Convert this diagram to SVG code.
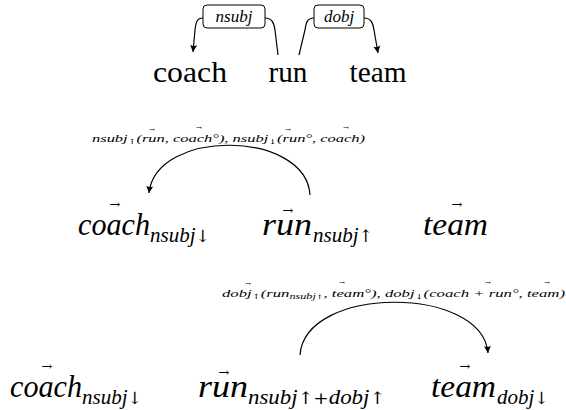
<svg xmlns="http://www.w3.org/2000/svg" width="566" height="410" viewBox="0 0 566 410">
<style>
.f{font-family:'Liberation Serif','Noto Sans CJK SC',serif}
.a{font-family:'DejaVu Serif','Noto Sans CJK SC',serif;font-style:normal}
.i{font-style:italic}
.c{fill:none;stroke:#000;stroke-width:1.2}
.box{fill:#fff;stroke:#000;stroke-width:1}
</style>
<defs>
<marker id="ah" viewBox="-8 -4 9 8" refX="0" refY="0" markerWidth="9" markerHeight="8" markerUnits="userSpaceOnUse" orient="auto">
<path d="M0,0 L-7,-3.5 Q-5,0 -7,3.5 Z" fill="#000"/>
</marker>
</defs>
<rect width="566" height="410" fill="#fff"/>

<g id="connectors">
<path class="c" d="M203,18 C197,18 196,22 195,30 L193,52" marker-end="url(#ah)"/>
<path class="c" d="M265,18 C272,18 274,23 275,30 L278,55"/>
<path class="c" d="M314,18 C307,18 306,23 305,30 L299,55"/>
<path class="c" d="M364,18 C371,18 373,23 374,30 L378,53" marker-end="url(#ah)"/>
<path class="c" d="M310,195 C306,130 156,128 149,193" marker-end="url(#ah)"/>
<path class="c" d="M300,355 C305,285 482,285 488,353" marker-end="url(#ah)"/>
</g>

<g id="label-nsubj">
<rect class="box" x="203" y="5" width="62" height="23" rx="4"/>
<text class="f i" font-family="Liberation Serif, Noto Sans CJK SC, serif" font-style="italic" font-size="17" x="234" y="22" text-anchor="middle">nsubj</text>
</g>
<g id="label-dobj">
<rect class="box" x="314" y="5" width="50" height="23" rx="4"/>
<text class="f i" font-family="Liberation Serif, Noto Sans CJK SC, serif" font-style="italic" font-size="17" x="339" y="22" text-anchor="middle">dobj</text>
</g>
<g id="word-coach"><text class="f" font-family="Liberation Serif, Noto Sans CJK SC, serif" font-size="30" x="190" y="82" text-anchor="middle" textLength="74" lengthAdjust="spacingAndGlyphs">coach</text></g>
<g id="word-run"><text class="f" font-family="Liberation Serif, Noto Sans CJK SC, serif" font-size="30" x="288" y="82" text-anchor="middle" textLength="39" lengthAdjust="spacingAndGlyphs">run</text></g>
<g id="word-team"><text class="f" font-family="Liberation Serif, Noto Sans CJK SC, serif" font-size="30" x="378" y="82" text-anchor="middle" textLength="57" lengthAdjust="spacingAndGlyphs">team</text></g>

<g id="label2">
<text class="f i" font-family="Liberation Serif, Noto Sans CJK SC, serif" font-style="italic" font-size="11" x="92" y="142" textLength="273" lengthAdjust="spacingAndGlyphs">nsubj<tspan class="a" font-size="7" dy="2">↑</tspan><tspan dy="-2">(run, coach°), nsubj</tspan><tspan class="a" font-size="7" dy="2">↓</tspan><tspan dy="-2">(run°, coach)</tspan></text>
<text class="a" font-size="7" text-anchor="middle" x="152" y="132">→</text>
<text class="a" font-size="7" text-anchor="middle" x="199" y="130">→</text>
<text class="a" font-size="7" text-anchor="middle" x="288" y="132">→</text>
<text class="a" font-size="7" text-anchor="middle" x="346" y="130">→</text>
</g>

<g id="coach2">
<text class="f i" font-family="Liberation Serif, Noto Sans CJK SC, serif" font-style="italic" font-size="31" x="78" y="235" textLength="72" lengthAdjust="spacingAndGlyphs">coach</text>
<text class="f i" font-family="Liberation Serif, Noto Sans CJK SC, serif" font-style="italic" font-size="21" x="150" y="242">nsubj<tspan class="a" font-size="17">↓</tspan></text>
<text class="a" font-size="13" text-anchor="middle" x="115" y="209">→</text>
</g>
<g id="run2">
<text class="f i" font-family="Liberation Serif, Noto Sans CJK SC, serif" font-style="italic" font-size="31" x="262" y="235" textLength="50" lengthAdjust="spacingAndGlyphs">run</text>
<text class="f i" font-family="Liberation Serif, Noto Sans CJK SC, serif" font-style="italic" font-size="21" x="313" y="242">nsubj<tspan class="a" font-size="17">↑</tspan></text>
<text class="a" font-size="13" text-anchor="middle" x="288" y="215">→</text>
</g>
<g id="team2">
<text class="f i" font-family="Liberation Serif, Noto Sans CJK SC, serif" font-style="italic" font-size="31" x="423" y="235" textLength="65" lengthAdjust="spacingAndGlyphs">team</text>
<text class="a" font-size="13" text-anchor="middle" x="457" y="209">→</text>
</g>

<g id="label3">
<text class="f i" font-family="Liberation Serif, Noto Sans CJK SC, serif" font-style="italic" font-size="11" x="222" y="297" textLength="343" lengthAdjust="spacingAndGlyphs">dobj<tspan class="a" font-size="7" dy="2">↑</tspan><tspan dy="-2">(run</tspan><tspan font-size="8" dy="2">nsubj</tspan><tspan class="a" font-size="6">↑</tspan><tspan dy="-2">, team°), dobj</tspan><tspan class="a" font-size="7" dy="2">↓</tspan><tspan dy="-2">(coach + run°, team)</tspan></text>
<text class="a" font-size="7" text-anchor="middle" x="248" y="286">→</text>
<text class="a" font-size="7" text-anchor="middle" x="342" y="285">→</text>
<text class="a" font-size="7" text-anchor="middle" x="488" y="285">→</text>
<text class="a" font-size="7" text-anchor="middle" x="547" y="285">→</text>
</g>

<g id="coach3">
<text class="f i" font-family="Liberation Serif, Noto Sans CJK SC, serif" font-style="italic" font-size="31" x="10" y="397" textLength="72" lengthAdjust="spacingAndGlyphs">coach</text>
<text class="f i" font-family="Liberation Serif, Noto Sans CJK SC, serif" font-style="italic" font-size="21" x="82" y="404">nsubj<tspan class="a" font-size="17">↓</tspan></text>
<text class="a" font-size="13" text-anchor="middle" x="47" y="371">→</text>
</g>
<g id="run3">
<text class="f i" font-family="Liberation Serif, Noto Sans CJK SC, serif" font-style="italic" font-size="31" x="198" y="397" textLength="50" lengthAdjust="spacingAndGlyphs">run</text>
<text class="f i" font-family="Liberation Serif, Noto Sans CJK SC, serif" font-style="italic" font-size="21" x="248" y="404" textLength="137" lengthAdjust="spacingAndGlyphs">nsubj<tspan class="a" font-size="17">↑+</tspan>dobj<tspan class="a" font-size="17">↑</tspan></text>
<text class="a" font-size="13" text-anchor="middle" x="224" y="377">→</text>
</g>
<g id="team3">
<text class="f i" font-family="Liberation Serif, Noto Sans CJK SC, serif" font-style="italic" font-size="31" x="431" y="397" textLength="65" lengthAdjust="spacingAndGlyphs">team</text>
<text class="f i" font-family="Liberation Serif, Noto Sans CJK SC, serif" font-style="italic" font-size="21" x="497" y="404">dobj<tspan class="a" font-size="17">↓</tspan></text>
<text class="a" font-size="13" text-anchor="middle" x="465" y="371">→</text>
</g>
</svg>
